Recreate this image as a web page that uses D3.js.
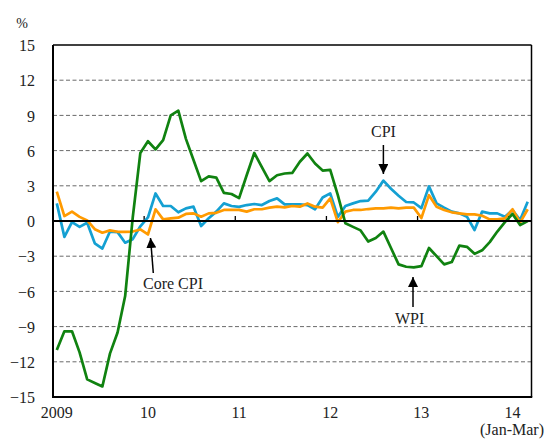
<!DOCTYPE html>
<html>
<head>
<meta charset="utf-8">
<script src="https://cdn.jsdelivr.net/npm/d3@7"></script>
<style>
  html, body { margin: 0; padding: 0; background: #fff; }
  svg { display: block; }
  text { font-family: "Liberation Serif", "Times New Roman", serif; fill: #222; }
</style>
</head>
<body>
<svg id="chart" width="548" height="440"></svg>
<script>
// Monthly year-on-year changes, Jan 2009 - Mar 2014 (%)
const yearLabels = ["2009", "10", "11", "12", "13", "14"];
const monthsPerYear = 12;
const monthCount = 63;

const wpi = [
  -11.0, -9.4, -9.4, -11.2, -13.5, -13.8, -14.1, -11.3, -9.5, -6.4, 0.3, 5.8,
  6.8, 6.1, 6.9, 9.0, 9.4, 7.0, 5.2, 3.4, 3.8, 3.7, 2.4, 2.3,
  1.95, 3.9, 5.8, 4.6, 3.4, 3.9, 4.05, 4.1, 5.05, 5.75, 4.9, 4.3,
  4.35, 2.2, -0.2, -0.5, -0.8, -1.75, -1.45, -0.9, -2.3, -3.7, -3.9, -3.95,
  -3.85, -2.3, -3.0, -3.7, -3.5, -2.1, -2.2, -2.8, -2.5, -1.8, -0.9, -0.1,
  0.6, -0.35, 0.0
];

const cpi = [
  1.5, -1.35, -0.1, -0.5, -0.15, -1.9, -2.35, -0.9, -0.95, -1.85, -1.55, -0.45,
  0.3, 2.35, 1.28, 1.28, 0.74, 1.08, 1.22, -0.43, 0.23, 0.8, 1.5, 1.28,
  1.2, 1.36, 1.45, 1.36, 1.7, 1.93, 1.42, 1.42, 1.42, 1.36, 1.0, 2.0,
  2.36, 0.35, 1.28, 1.5, 1.7, 1.73, 2.5, 3.44, 2.75, 2.15, 1.62, 1.58,
  1.1, 2.95, 1.5, 1.14, 0.8, 0.65, 0.37, -0.77, 0.8, 0.65, 0.65, 0.37,
  0.94, 0.08, 1.65
];

const coreCpi = [
  2.5, 0.42, 0.8, 0.35, 0.05, -0.7, -1.0, -0.8, -0.92, -0.93, -0.9, -0.72,
  -1.15, 1.0, 0.14, 0.23, 0.28, 0.6, 0.65, 0.37, 0.65, 0.7, 0.94, 0.94,
  0.95, 0.8, 1.0, 1.0, 1.14, 1.22, 1.16, 1.28, 1.22, 1.5, 1.22, 1.14,
  1.93, -0.1, 0.8, 0.94, 0.94, 1.02, 1.08, 1.08, 1.14, 1.08, 1.14, 1.14,
  0.25, 2.2, 1.22, 0.94, 0.74, 0.65, 0.57, 0.57, 0.45, 0.14, 0.14, 0.23,
  1.0, -0.14, 1.0
];

const yTicks = [15, 12, 9, 6, 3, 0, -3, -6, -9, -12, -15];

const margin = { left: 53, right: 531.5, top: 45, bottom: 397 };
const svg = d3.select("#chart");

const x = d3.scaleBand()
  .domain(d3.range(monthCount))
  .range([margin.left, margin.right])
  .padding(0);
const xc = i => x(i) + x.bandwidth() / 2;

const y = d3.scaleLinear().domain([-15, 15]).range([margin.bottom, margin.top]);

// dashed grid lines
svg.append("g")
  .selectAll("line")
  .data(yTicks.filter(v => v !== 0 && Math.abs(v) !== 15))
  .join("line")
  .attr("x1", margin.left).attr("x2", margin.right)
  .attr("y1", d => y(d)).attr("y2", d => y(d))
  .attr("stroke", "#6a6a6a")
  .attr("stroke-width", 1)
  .attr("stroke-dasharray", "4,2.5");

// y-axis labels
const yAxis = d3.axisLeft(y).tickValues(yTicks).tickSize(0).tickPadding(0);
const gy = svg.append("g").attr("transform", `translate(35,0)`).call(yAxis);
gy.select(".domain").remove();
gy.selectAll("text")
  .attr("font-family", "Liberation Serif, Times New Roman, serif")
  .attr("font-size", 16)
  .attr("fill", "#222")
  .attr("dy", "0.35em");

svg.append("text").attr("x", 22).attr("y", 28)
  .attr("text-anchor", "middle").attr("font-size", 14).text("%");

// frame
svg.append("line").attr("x1", margin.left).attr("x2", margin.right)
  .attr("y1", y(15)).attr("y2", y(15)).attr("stroke", "#000").attr("stroke-width", 1.3);
svg.append("line").attr("x1", margin.right).attr("x2", margin.right)
  .attr("y1", y(15)).attr("y2", y(-15)).attr("stroke", "#000").attr("stroke-width", 1.5);

// year boundary ticks on the zero line
svg.append("g")
  .selectAll("line")
  .data(d3.range(monthsPerYear, monthCount, monthsPerYear))
  .join("line")
  .attr("x1", d => x(d)).attr("x2", d => x(d))
  .attr("y1", y(0)).attr("y2", y(0) - 5)
  .attr("stroke", "#000").attr("stroke-width", 1.3);

// x labels at each January
svg.append("g")
  .selectAll("text")
  .data(yearLabels)
  .join("text")
  .attr("x", (d, k) => xc(k * monthsPerYear))
  .attr("y", 418)
  .attr("text-anchor", "middle")
  .attr("font-size", 16)
  .text(d => d);
svg.append("text").attr("x", 512).attr("y", 435)
  .attr("text-anchor", "middle").attr("font-size", 16).text("(Jan-Mar)");

// series lines
const line = d3.line().x((d, i) => xc(i)).y(d => y(d));
const series = [
  { values: cpi, color: "#14a0d2" },
  { values: coreCpi, color: "#ff9a00" },
  { values: wpi, color: "#108210" }
];
svg.append("g")
  .selectAll("path")
  .data(series)
  .join("path")
  .attr("d", d => line(d.values))
  .attr("fill", "none")
  .attr("stroke", d => d.color)
  .attr("stroke-width", 2.7)
  .attr("stroke-linejoin", "round");

// zero line, left and bottom axes
svg.append("line").attr("x1", margin.left).attr("x2", margin.right)
  .attr("y1", y(0)).attr("y2", y(0)).attr("stroke", "#000").attr("stroke-width", 2);
svg.append("line").attr("x1", margin.left).attr("x2", margin.left)
  .attr("y1", y(15)).attr("y2", y(-15) + 1).attr("stroke", "#000").attr("stroke-width", 2);
svg.append("line").attr("x1", margin.left - 1).attr("x2", margin.right + 0.75)
  .attr("y1", y(-15)).attr("y2", y(-15)).attr("stroke", "#000").attr("stroke-width", 2);

// annotations
svg.append("defs").append("marker")
  .attr("id", "head").attr("viewBox", "0 0 10 10")
  .attr("refX", 10).attr("refY", 5)
  .attr("markerWidth", 10).attr("markerHeight", 10)
  .attr("markerUnits", "userSpaceOnUse")
  .attr("orient", "auto")
  .append("path").attr("d", "M0,0 L10,5 L0,10 Z").attr("fill", "#000");

function note(label, tx, ty, x1, y1, x2, y2) {
  svg.append("text").attr("x", tx).attr("y", ty).attr("font-size", 16).text(label);
  svg.append("line")
    .attr("x1", x1).attr("y1", y1).attr("x2", x2).attr("y2", y2)
    .attr("stroke", "#000").attr("stroke-width", 1.5)
    .attr("marker-end", "url(#head)");
}
note("CPI", 371, 137, xc(43), 145, xc(43), 174);
note("WPI", 395, 324, 413, 307, 413, 277);
note("Core CPI", 143, 289, 153.3, 273, 150.5, 238);
</script>
</body>
</html>
